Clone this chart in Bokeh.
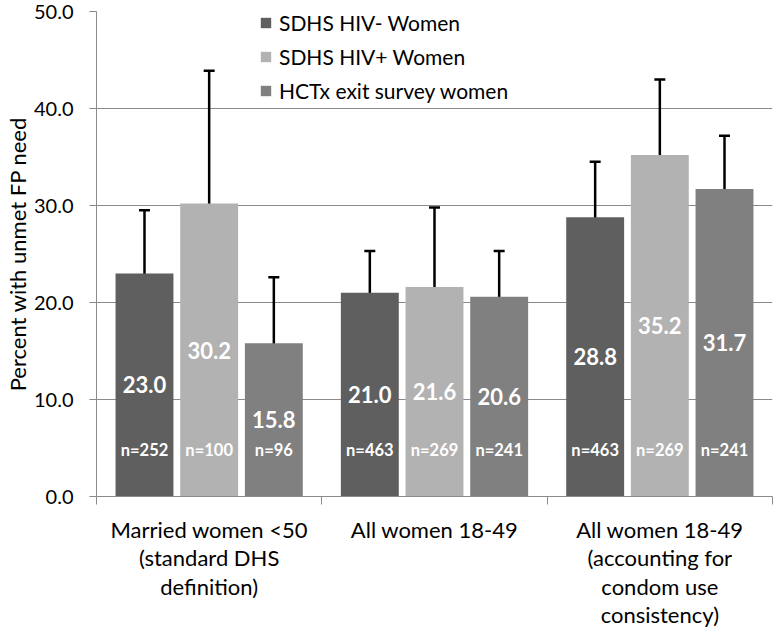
import numpy as np
from bokeh.plotting import figure
from bokeh.models import (ColumnDataSource, FixedTicker, Whisker, TeeHead, Legend, LegendItem,
                          PrintfTickFormatter, Range1d)
from bokeh.core.properties import value
from bokeh.embed import file_html
from bokeh.resources import INLINE

# ---------------- data ----------------
categories = ["Married women <50\n(standard DHS\ndefinition)",
              "All women 18-49",
              "All women 18-49\n(accounting for\ncondom use\nconsistency)"]
series = ["SDHS HIV- Women", "SDHS HIV+ Women", "HCTx exit survey women"]
hiv_neg = [23.0, 21.0, 28.8]
hiv_pos = [30.2, 21.6, 35.2]
hctx = [15.8, 20.6, 31.7]
hiv_neg_lo = [17.7, 17.1, 23.6]
hiv_neg_hi = [29.5, 25.3, 34.5]
hiv_pos_lo = [19.3, 15.2, 28.1]
hiv_pos_hi = [43.9, 29.8, 43.0]
hctx_lo = [9.0, 15.8, 26.3]
hctx_hi = [22.6, 25.3, 37.2]
hiv_neg_n = [252, 463, 463]
hiv_pos_n = [100, 269, 269]
hctx_n = [96, 241, 241]
y_ticks = [0, 10, 20, 30, 40, 50]

colors = ["#5f5f5f", "#b2b2b2", "#808080"]
offsets = [-0.287, 0.0, 0.287]
bar_w = 0.257
FONT = "Lato"

p = figure(width=776, height=631, output_backend="svg", toolbar_location=None,
           x_range=Range1d(0, len(categories)), y_range=Range1d(0, 50),
           min_border_left=95, min_border_right=4, min_border_top=11, min_border_bottom=134)
p.outline_line_color = None
p.background_fill_color = "white"

centers = np.arange(len(categories)) + 0.5
renderers = []
for vals, lo, hi, ns, col, off in zip([hiv_neg, hiv_pos, hctx],
                                      [hiv_neg_lo, hiv_pos_lo, hctx_lo],
                                      [hiv_neg_hi, hiv_pos_hi, hctx_hi],
                                      [hiv_neg_n, hiv_pos_n, hctx_n],
                                      colors, offsets):
    v = np.array(vals)
    src = ColumnDataSource(dict(x=centers + off, top=v, lo=lo, hi=hi, mid=v / 2,
                                lab=["%.1f" % a for a in vals],
                                nlab=["n=%d" % n for n in ns],
                                ny=[4.8] * len(vals)))
    r = p.vbar(x="x", top="top", width=bar_w, bottom=0, source=src, fill_color=col,
               line_color=None)
    renderers.append(r)
    w = Whisker(base="x", lower="lo", upper="hi", source=src, line_width=2.5, line_color="black",
                lower_head=TeeHead(size=11, line_width=2.5, line_color="black"),
                upper_head=TeeHead(size=11, line_width=2.5, line_color="black"))
    p.add_layout(w)
    p.text(x="x", y="mid", text="lab", source=src, text_align="center", text_baseline="middle",
           text_color="white", text_font=value(FONT), text_font_style="bold",
           text_font_size="22px")
    p.text(x="x", y="ny", text="nlab", source=src, text_align="center", text_baseline="middle",
           text_color="white", text_font=value(FONT), text_font_style="bold",
           text_font_size="16.5px")

# axes
p.xaxis.ticker = FixedTicker(ticks=list(centers), minor_ticks=list(range(len(categories) + 1)))
p.xaxis.major_label_overrides = {float(c): lab for c, lab in zip(centers, categories)}
p.xaxis.major_tick_out = 0
p.xaxis.major_tick_in = 0
p.xaxis.minor_tick_out = 8
p.xaxis.minor_tick_in = 0
p.xaxis.axis_line_color = "#8a8a8a"
p.xaxis.minor_tick_line_color = "#8a8a8a"
p.xaxis.major_label_text_font = FONT
p.xaxis.major_label_text_font_size = "22px"
p.xaxis.major_label_text_color = "black"
p.xaxis.major_label_standoff = 11
p.xaxis.major_label_text_line_height = 1.06
p.xgrid.grid_line_color = None

p.yaxis.ticker = FixedTicker(ticks=y_ticks)
p.yaxis.formatter = PrintfTickFormatter(format="%.1f")
p.yaxis.major_tick_out = 7
p.yaxis.major_tick_in = 0
p.yaxis.minor_tick_line_color = None
p.yaxis.axis_line_color = "#8a8a8a"
p.yaxis.major_tick_line_color = "#8a8a8a"
p.yaxis.major_label_text_font = FONT
p.yaxis.major_label_text_font_size = "20px"
p.yaxis.major_label_text_color = "black"
p.yaxis.major_label_standoff = 16
p.yaxis.axis_label = "Percent with unmet FP need"
p.yaxis.axis_label_text_font = FONT
p.yaxis.axis_label_text_font_size = "22px"
p.yaxis.axis_label_text_font_style = "normal"
p.yaxis.axis_label_text_color = "black"
p.yaxis.axis_label_standoff = 0
p.ygrid.grid_line_color = "#8a8a8a"
p.ygrid.grid_line_width = 1

legend = Legend(items=[LegendItem(label=s, renderers=[r]) for s, r in zip(series, renderers)],
                location=(163, 393), orientation="vertical",
                label_text_font=FONT, label_text_font_size="21px", label_text_color="black",
                glyph_width=13, glyph_height=13, label_standoff=7, label_height=22,
                spacing=9, padding=12, margin=0,
                border_line_color=None, background_fill_color="white", background_fill_alpha=1.0)
p.add_layout(legend)

open("out.html", "w").write(file_html(p, INLINE))
